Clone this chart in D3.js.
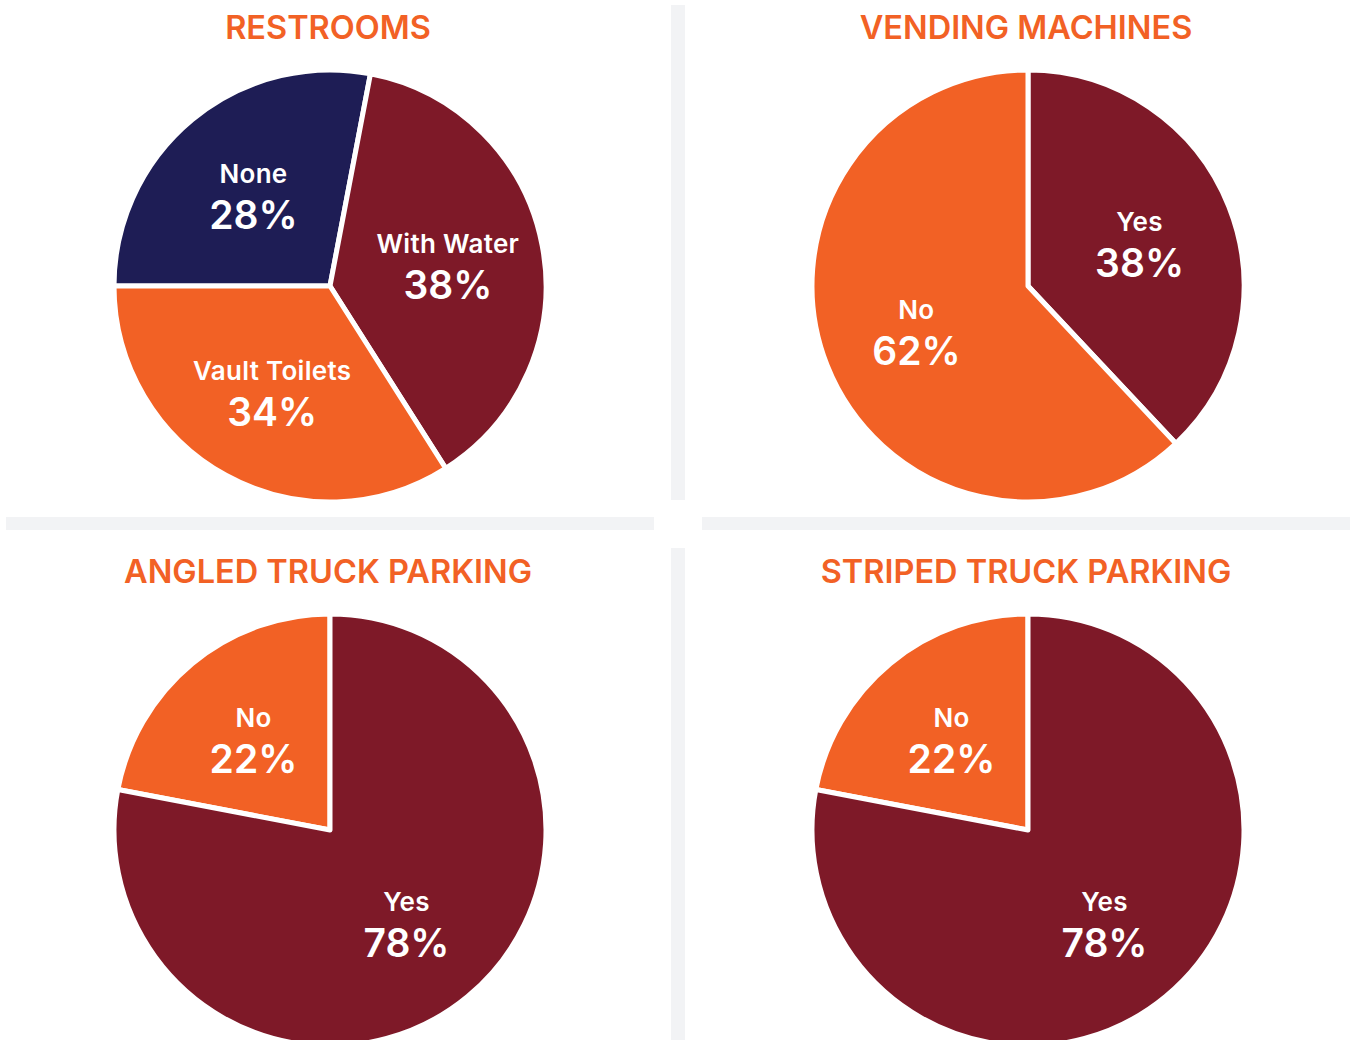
<!DOCTYPE html>
<html>
<head>
<meta charset="utf-8">
<script src="https://cdn.jsdelivr.net/npm/d3@7"></script>
<style>
  body { margin: 0; background: #fff; }
  svg { display: block; }
  .title { font-family: Inter, "Liberation Sans", sans-serif; font-weight: 600; font-size: 32.5px; fill: #F26125; }
  .lbl-name { font-family: Inter, sans-serif; font-weight: 600; font-size: 26px; fill: #fff; letter-spacing: 0.3px; }
  .lbl-pct { font-family: Inter, sans-serif; font-weight: 600; font-size: 39px; fill: #fff; }
</style>
</head>
<body>
<svg width="1351" height="1040"></svg>
<script>
// chart data
var titles = ["RESTROOMS", "VENDING MACHINES", "ANGLED TRUCK PARKING", "STRIPED TRUCK PARKING"];

var restroomLabels = ["None", "With Water", "Vault Toilets"];
var restroomValues = [28, 38, 34];

var vendingLabels = ["Yes", "No"];
var vendingValues = [38, 62];

var angledLabels = ["No", "Yes"];
var angledValues = [22, 78];

var stripedLabels = ["No", "Yes"];
var stripedValues = [22, 78];

var navy = "#1E1D55", maroon = "#7E1928", orange = "#F26125";

var svg = d3.select("svg"),
    width = +svg.attr("width"),
    height = +svg.attr("height");

// light grey dividers
var sep = "#F2F3F5";
svg.append("rect").attr("x", 671).attr("y", 5).attr("width", 14).attr("height", 495).attr("fill", sep);
svg.append("rect").attr("x", 671).attr("y", 548).attr("width", 14).attr("height", 492).attr("fill", sep);
svg.append("rect").attr("x", 6).attr("y", 517).attr("width", 648).attr("height", 13).attr("fill", sep);
svg.append("rect").attr("x", 702).attr("y", 517).attr("width", 648).attr("height", 13).attr("fill", sep);

var radius = 216;

var panels = [
  { title: titles[0], labels: restroomLabels, values: restroomValues, colors: [navy, maroon, orange], cx: 330, cy: 286, ty: 39, start: -Math.PI / 2 },
  { title: titles[1], labels: vendingLabels, values: vendingValues, colors: [maroon, orange], cx: 1028, cy: 286, ty: 39, start: 0 },
  { title: titles[2], labels: angledLabels, values: angledValues, colors: [orange, maroon], cx: 330, cy: 830, ty: 583, start: -0.22 * 2 * Math.PI },
  { title: titles[3], labels: stripedLabels, values: stripedValues, colors: [orange, maroon], cx: 1028, cy: 830, ty: 583, start: -0.22 * 2 * Math.PI }
];

var arc = d3.arc().innerRadius(0).outerRadius(radius);
var labelArc = d3.arc().innerRadius(120).outerRadius(120);

panels.forEach(function(p) {
  svg.append("text")
      .attr("class", "title")
      .attr("x", p.cx - 2)
      .attr("y", p.ty)
      .attr("text-anchor", "middle")
      .text(p.title);

  var pie = d3.pie()
      .sort(null)
      .startAngle(p.start)
      .endAngle(p.start + 2 * Math.PI);

  var color = d3.scaleOrdinal().domain(p.labels).range(p.colors);

  var rows = p.labels.map(function(l, i) { return { label: l, value: p.values[i] }; });
  var arcs = pie.value(function(d) { return d.value; })(rows);

  var g = svg.append("g").attr("transform", "translate(" + p.cx + "," + p.cy + ")");

  g.selectAll("path")
    .data(arcs)
    .enter().append("path")
      .attr("d", arc)
      .attr("fill", function(d) { return color(d.data.label); })
      .attr("stroke", "#fff")
      .attr("stroke-width", 5)
      .attr("stroke-linejoin", "round");

  var lab = g.selectAll("g.lab")
    .data(arcs)
    .enter().append("g")
      .attr("class", "lab")
      .attr("transform", function(d) { return "translate(" + labelArc.centroid(d) + ")"; });

  lab.append("text")
      .attr("class", "lbl-name")
      .attr("text-anchor", "middle")
      .attr("y", -11)
      .text(function(d) { return d.data.label; });

  lab.append("text")
      .attr("class", "lbl-pct")
      .attr("text-anchor", "middle")
      .attr("y", 35)
      .text(function(d) { return d.data.value + "%"; });
});
</script>
</body>
</html>
